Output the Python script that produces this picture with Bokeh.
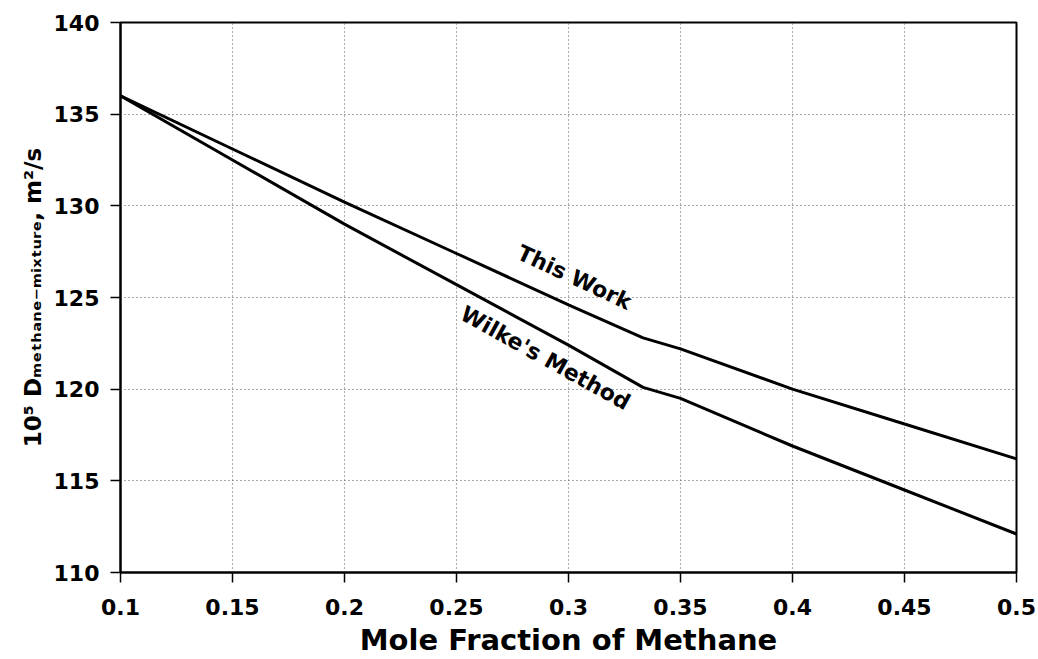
from bokeh.plotting import figure
from bokeh.models import Label, FixedTicker, ColumnDataSource
from bokeh.embed import file_html
from bokeh.resources import INLINE

# ---- data ----
mole_fraction = [0.1, 0.15, 0.2, 0.25, 0.3, 0.3333, 0.35, 0.4, 0.45, 0.5]
this_work = [136.0, 133.1, 130.2, 127.4, 124.6, 122.8, 122.2, 120.0, 118.1, 116.2]
wilke = [136.0, 132.5, 129.0, 125.7, 122.4, 120.1, 119.5, 116.9, 114.5, 112.1]

x_ticks = [0.1, 0.15, 0.2, 0.25, 0.3, 0.35, 0.4, 0.45, 0.5]
x_tick_labels = ["0.1", "0.15", "0.2", "0.25", "0.3", "0.35", "0.4", "0.45", "0.5"]
y_ticks = [110, 115, 120, 125, 130, 135, 140]
y_tick_labels = ["110", "115", "120", "125", "130", "135", "140"]

series_names = ["This Work", "Wilke's Method"]
x_title = "Mole Fraction of Methane"
y_title = "10\u2075 D\u2098\u2091\u209c\u2095\u2090\u2099\u2091\u208b\u2098\u1d62\u2093\u209c\u1d64\u1d63\u2091, m\u00b2/s"

FONT = "DejaVu Sans"

p = figure(
    frame_width=896, frame_height=550,
    x_range=(0.1, 0.5), y_range=(110, 140),
    output_backend="svg", toolbar_location=None,
    min_border_left=120, min_border_right=22,
    min_border_top=22, min_border_bottom=87,
)
p.background_fill_color = "white"
p.border_fill_color = "white"
p.outline_line_color = "black"
p.outline_line_width = 2

# axes
p.xaxis.ticker = FixedTicker(ticks=x_ticks)
p.xaxis.major_label_overrides = {t: s for t, s in zip(x_ticks, x_tick_labels)}
p.yaxis.ticker = FixedTicker(ticks=y_ticks)
p.yaxis.major_label_overrides = {t: s for t, s in zip(y_ticks, y_tick_labels)}
for ax in (p.xaxis, p.yaxis):
    ax.axis_line_color = "black"
    ax.axis_line_width = 2
    ax.major_tick_line_color = "black"
    ax.major_tick_line_width = 1.5
    ax.major_tick_out = 10
    ax.major_tick_in = 0
    ax.minor_tick_line_color = None
    ax.major_label_text_font = FONT
    ax.major_label_text_font_style = "bold"
    ax.major_label_text_font_size = "22px"
    ax.major_label_text_color = "black"
    ax.axis_label_text_font = FONT
    ax.axis_label_text_font_style = "bold"
    ax.axis_label_text_color = "black"
p.xaxis.major_label_standoff = 16
p.yaxis.major_label_standoff = 11

p.xaxis.axis_label = x_title
p.xaxis.axis_label_text_font_size = "29px"
p.xaxis.axis_label_text_line_height = 1.0
p.xaxis.axis_label_standoff = 5

p.yaxis.axis_label = y_title
p.yaxis.axis_label_text_font_size = "23px"
p.yaxis.axis_label_standoff = 5

# grid
for g in (p.xgrid, p.ygrid):
    g.grid_line_color = "#555555"
    g.grid_line_dash = "1 3"
    g.grid_line_width = 1
p.xgrid.ticker = FixedTicker(ticks=x_ticks)
p.ygrid.ticker = FixedTicker(ticks=y_ticks)

# lines
src = ColumnDataSource(dict(x=mole_fraction, tw=this_work, wk=wilke))
p.line("x", "tw", source=src, line_color="black", line_width=3)
p.line("x", "wk", source=src, line_color="black", line_width=3)

# curve labels
p.add_layout(Label(x=0.3027, y=126.1, text=series_names[0], angle=-25, angle_units="deg",
                   text_align="center", text_baseline="middle",
                   text_font=FONT, text_font_style="bold", text_font_size="22px",
                   text_color="black"))
p.add_layout(Label(x=0.2897, y=121.7, text=series_names[1], angle=-29, angle_units="deg",
                   text_align="center", text_baseline="middle",
                   text_font=FONT, text_font_style="bold", text_font_size="22px",
                   text_color="black"))

open("out.html", "w").write(file_html(p, INLINE))
